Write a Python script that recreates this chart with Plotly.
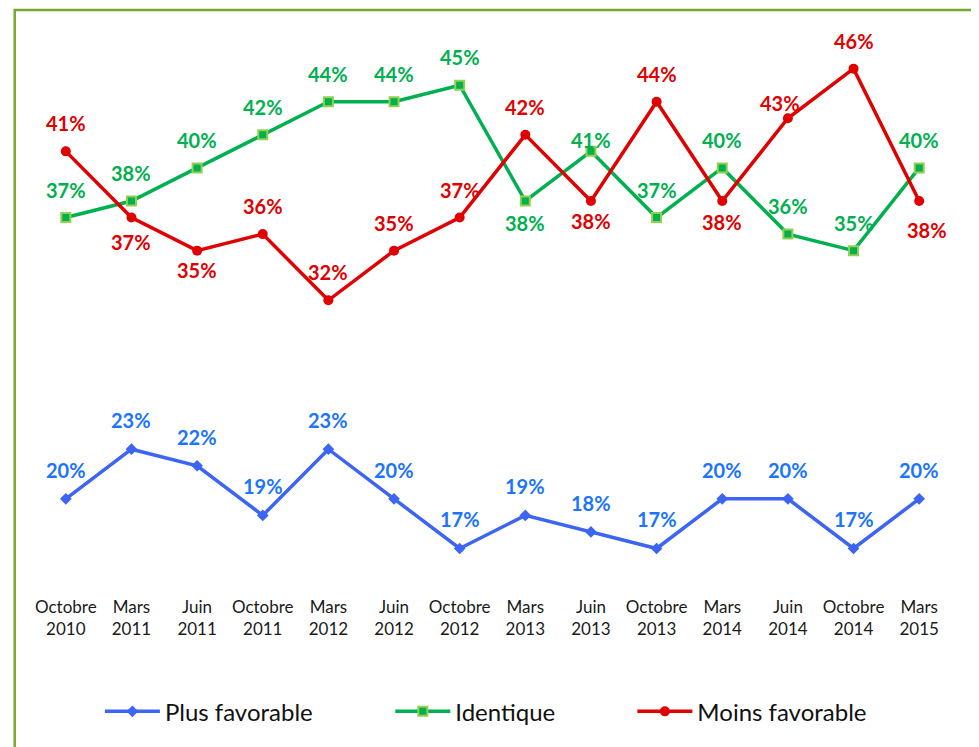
import plotly.graph_objects as go

categories = [
    "Octobre<br>2010", "Mars<br>2011", "Juin<br>2011", "Octobre<br>2011",
    "Mars<br>2012", "Juin<br>2012", "Octobre<br>2012", "Mars<br>2013",
    "Juin<br>2013", "Octobre<br>2013", "Mars<br>2014", "Juin<br>2014",
    "Octobre<br>2014", "Mars<br>2015",
]
plus_favorable = [20, 23, 22, 19, 23, 20, 17, 19, 18, 17, 20, 20, 17, 20]
identique = [37, 38, 40, 42, 44, 44, 45, 38, 41, 37, 40, 36, 35, 40]
moins_favorable = [41, 37, 35, 36, 32, 35, 37, 42, 38, 44, 38, 43, 46, 38]

FONT = "Lato"
BLUE, BLUE_TXT = "#3c64f5", "#1c74ff"
GREEN, GREEN_LIGHT = "#00b050", "#92d050"
RED = "#e00000"

fig = go.Figure()

fig.add_trace(go.Scatter(
    x=categories, y=plus_favorable, mode="lines+markers", name="Plus favorable",
    line=dict(color=BLUE, width=3.5),
    marker=dict(symbol="diamond", size=9, color=BLUE),
    legend="legend",
))
fig.add_trace(go.Scatter(
    x=categories, y=identique, mode="lines+markers", name="Identique",
    line=dict(color=GREEN, width=3.5),
    marker=dict(symbol="square", size=9, color=GREEN,
                line=dict(color=GREEN_LIGHT, width=2)),
    legend="legend2",
))
fig.add_trace(go.Scatter(
    x=categories, y=moins_favorable, mode="lines+markers", name="Moins favorable",
    line=dict(color=RED, width=3.5),
    marker=dict(symbol="circle", size=10, color=RED),
    legend="legend3",
))

# label offsets (yshift, xshift) per point index, default above the point
below_green = {7: (-22, 0)}
special_green = {8: (11, 0)}
below_red = {1: (-24, 0), 2: (-19, 0), 8: (-20, 0), 10: (-21, 0), 13: (-29, 8)}
special_red = {11: (15, -8)}

annotations = []
for i, c in enumerate(categories):
    annotations.append(dict(x=c, y=plus_favorable[i], text=f"{plus_favorable[i]}%",
                            yshift=29, font=dict(color=BLUE_TXT)))
    ys, xs = below_green.get(i, special_green.get(i, (28, 0)))
    annotations.append(dict(x=c, y=identique[i], text=f"{identique[i]}%",
                            yshift=ys, xshift=xs, font=dict(color=GREEN)))
    ys, xs = below_red.get(i, special_red.get(i, (28, 0)))
    annotations.append(dict(x=c, y=moins_favorable[i], text=f"{moins_favorable[i]}%",
                            yshift=ys, xshift=xs, font=dict(color=RED)))

for a in annotations:
    a.update(showarrow=False, xref="x", yref="y")
    a["font"].update(family=FONT, size=20, weight="bold")

legend_common = dict(orientation="h", yanchor="middle", y=-0.209,
                     font=dict(family=FONT, size=24, color="#111111"),
                     bgcolor="rgba(0,0,0,0)", itemwidth=55)

fig.update_layout(
    width=971, height=739,
    margin=dict(l=25, r=27, t=10.5, b=155),
    paper_bgcolor="white", plot_bgcolor="white",
    annotations=annotations,
    showlegend=True,
    legend=dict(x=0.0728, **legend_common),
    legend2=dict(x=0.3888, **legend_common),
    legend3=dict(x=0.6522, **legend_common),
    shapes=[dict(type="rect", xref="paper", yref="paper",
                 x0=-0.0199, x1=1.06, y0=-0.35, y1=1.0157,
                 line=dict(color="#78a82a", width=2.5))],
)
fig.update_xaxes(range=[-0.5, 13.5], showgrid=False, showline=False, zeroline=False,
                 ticks="", ticklabelstandoff=3,
                 tickfont=dict(family=FONT, size=17, color="#1a1a1a"))
fig.update_yaxes(range=[14.37, 49], visible=False)

fig.write_html("out.html")
